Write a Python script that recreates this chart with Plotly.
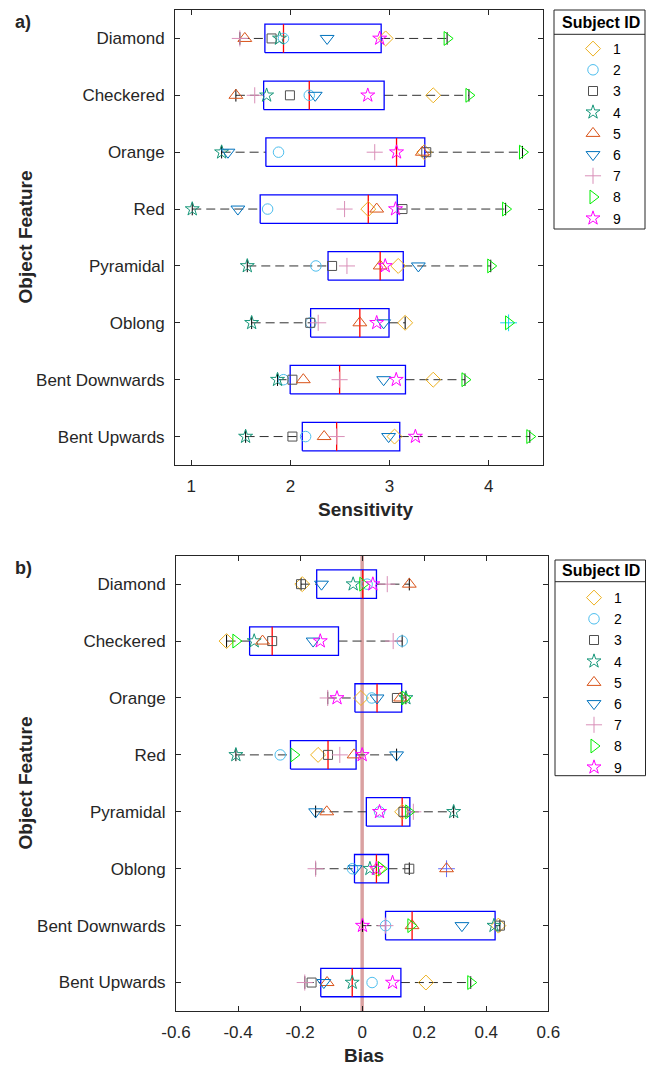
import numpy as np
import plotly.graph_objects as go

# ---------------- data ----------------
categories = ["Diamond", "Checkered", "Orange", "Red", "Pyramidal",
              "Oblong", "Bent Downwards", "Bent Upwards"]
subject_ids = ["1", "2", "3", "4", "5", "6", "7", "8", "9"]

# Sensitivity per subject (category order as above)
sens_s1 = [2.96, 3.44, 3.35, 2.785, 3.087, 3.157, 3.44, 3.05]
sens_s2 = [1.93, 2.19, 1.88, 1.77, 2.257, 2.205, 1.93, 2.153]
sens_s3 = [1.81, 1.995, 3.37, 3.13, 2.42, 2.20, 2.02, 2.02]
sens_s4 = [1.89, 1.76, 1.306, 1.01, 1.565, 1.609, 1.87, 1.548]
sens_s5 = [1.54, 1.45, 3.33, 2.87, 2.905, 2.70, 2.13, 2.34]
sens_s6 = [2.37, 2.25, 1.37, 1.47, 3.29, 2.94, 2.94, 2.99]
sens_s7 = [1.49, 1.64, 2.85, 2.546, 2.57, 2.28, 2.496, 2.466]
sens_s8 = [3.58, 3.80, 4.34, 4.17, 4.02, 4.20, 3.76, 4.414]
sens_s9 = [2.90, 2.78, 3.07, 3.06, 2.956, 2.87, 3.067, 3.26]

# Bias per subject
bias_s1 = [-0.193, -0.437, -0.004, -0.142, 0.129, 0.052, 0.439, 0.2055]
bias_s2 = [0.016, 0.129, 0.031, -0.264, 0.056, -0.031, 0.0755, 0.032]
bias_s3 = [-0.197, -0.29, 0.112, -0.11, 0.133, 0.152, 0.444, -0.163]
bias_s4 = [-0.029, -0.348, 0.141, -0.407, 0.295, 0.025, 0.425, -0.032]
bias_s5 = [0.152, -0.321, 0.124, -0.026, -0.114, 0.272, 0.161, -0.113]
bias_s6 = [-0.131, -0.158, 0.048, 0.111, -0.15, -0.0226, 0.3216, -0.1235]
bias_s7 = [0.081, 0.10, -0.111, -0.072, 0.165, -0.15, 0.075, -0.185]
bias_s8 = [0.002, -0.407, 0.138, -0.22, 0.15, 0.0625, 0.157, 0.35]
bias_s9 = [0.0345, -0.135, -0.081, 0.0, 0.056, 0.046, 0.001, 0.098]

sens_x_ticks = [1, 2, 3, 4]
bias_x_ticks = [-0.6, -0.4, -0.2, 0, 0.2, 0.4, 0.6]
bias_x_ticktext = ["-0.6", "-0.4", "-0.2", "0", "0.2", "0.4", "0.6"]

sensitivity = [sens_s1, sens_s2, sens_s3, sens_s4, sens_s5, sens_s6, sens_s7, sens_s8, sens_s9]
bias = [bias_s1, bias_s2, bias_s3, bias_s4, bias_s5, bias_s6, bias_s7, bias_s8, bias_s9]

# ---------------- style ----------------
W, H = 646, 1066
FONT = "Liberation Sans, Arial, Helvetica, sans-serif"
TXT = "#262626"
symbols = ["diamond-open", "circle-open", "square-open", "star-open", "triangle-up-open",
           "triangle-down-open", "cross-thin-open", "triangle-right-open", "star-open"]
colors = ["#EDB120", "#4DBEEE", "#505050", "#17977A", "#D95319",
          "#0072BD", "#D98FB8", "#00EE00", "#FF00FF"]
sizes = [11.5, 10.5, 9, 10.5, 12, 12, 11.5, 12, 10.5]

ncat = len(categories)
ypos = [ncat - i for i in range(ncat)]  # Diamond at top


def px_x(x):
    return x / W


def px_y(y):
    return 1 - y / H


def mprctile(vals, p):
    x = np.sort(np.asarray(vals, dtype=float))
    n = len(x)
    pos = n * p / 100.0 + 0.5
    if pos <= 1:
        return x[0]
    if pos >= n:
        return x[-1]
    lo = int(np.floor(pos))
    frac = pos - lo
    return x[lo - 1] + frac * (x[lo] - x[lo - 1])


def box_traces(data, xa, ya):
    bx, by, wx, wy, cx, cy, mx, my, ox, oy = [], [], [], [], [], [], [], [], [], []
    hw, cap = 0.25, 0.11
    for i in range(ncat):
        vals = np.array([d[i] for d in data])
        y = ypos[i]
        q1, med, q3 = mprctile(vals, 25), mprctile(vals, 50), mprctile(vals, 75)
        iqr = q3 - q1
        lo_f, hi_f = q1 - 1.5 * iqr, q3 + 1.5 * iqr
        inside = vals[(vals >= lo_f) & (vals <= hi_f)]
        lo_w, hi_w = inside.min(), inside.max()
        outs = vals[(vals < lo_f) | (vals > hi_f)]
        bx += [q1, q3, q3, q1, q1, None]
        by += [y - hw, y - hw, y + hw, y + hw, y - hw, None]
        wx += [lo_w, q1, None, q3, hi_w, None]
        wy += [y, y, None, y, y, None]
        cx += [lo_w, lo_w, None, hi_w, hi_w, None]
        cy += [y - cap, y + cap, None, y - cap, y + cap, None]
        mx += [med, med, None]
        my += [y - hw, y + hw, None]
        for o in outs:
            ox.append(o)
            oy.append(y)
    common = dict(xaxis=xa, yaxis=ya, mode="lines", showlegend=False, hoverinfo="skip")
    tr = [
        go.Scatter(x=wx, y=wy, line=dict(color="#303030", width=1, dash="9px,5px"), **common),
        go.Scatter(x=bx, y=by, line=dict(color="#0000FF", width=1.3), **common),
        go.Scatter(x=cx, y=cy, line=dict(color="#000000", width=1), **common),
        go.Scatter(x=mx, y=my, line=dict(color="#FF0000", width=1.3), **common),
    ]
    if ox:
        tr.append(go.Scatter(x=ox, y=oy, xaxis=xa, yaxis=ya, mode="markers", showlegend=False,
                             hoverinfo="skip",
                             marker=dict(symbol="cross-thin-open", size=12,
                                         line=dict(color="#FF0000", width=1))))
    return tr


fig = go.Figure()

# zero line for bias panel (drawn first, behind)
fig.add_trace(go.Scatter(x=[0, 0], y=[0.5, ncat + 0.5], xaxis="x2", yaxis="y2", mode="lines",
                         line=dict(color="rgba(205,130,130,0.75)", width=3.5),
                         showlegend=False, hoverinfo="skip"))

for t in box_traces(sensitivity, "x", "y"):
    fig.add_trace(t)
for t in box_traces(bias, "x2", "y2"):
    fig.add_trace(t)

for k in range(9):
    mk = dict(symbol=symbols[k], size=sizes[k], color=colors[k],
              line=dict(color=colors[k], width=1))
    fig.add_trace(go.Scatter(x=sensitivity[k], y=ypos, xaxis="x", yaxis="y", mode="markers",
                             name=subject_ids[k], marker=mk, legend="legend"))
    fig.add_trace(go.Scatter(x=bias[k], y=ypos, xaxis="x2", yaxis="y2", mode="markers",
                             name=subject_ids[k], marker=mk, legend="legend2"))

axis_common = dict(showline=True, linecolor=TXT, linewidth=1, mirror="ticks", ticks="inside",
                   ticklen=5, tickcolor=TXT, showgrid=False, zeroline=False, automargin=False,
                   tickfont=dict(family=FONT, size=17, color=TXT))

ylabels = [categories[ncat - v] for v in range(1, ncat + 1)]

legend_common = dict(xanchor="left", yanchor="top", bgcolor="rgba(0,0,0,0)", borderwidth=0,
                     font=dict(family=FONT, size=14, color="#000000"), itemwidth=30,
                     tracegroupgap=0)

fig.update_layout(
    width=W, height=H, autosize=False,
    margin=dict(l=0, r=0, t=0, b=0, autoexpand=False),
    paper_bgcolor="white", plot_bgcolor="white",
    font=dict(family=FONT, color=TXT),
    xaxis=dict(domain=[px_x(175), px_x(543.3)], range=[0.836, 4.55], tickvals=sens_x_ticks,
               anchor="y", ticklabelstandoff=6, **axis_common),
    yaxis=dict(domain=[px_y(465), px_y(10)], range=[0.5, ncat + 0.5],
               tickvals=list(range(1, ncat + 1)), ticktext=ylabels, anchor="x",
               ticklabelstandoff=6, **axis_common),
    xaxis2=dict(domain=[px_x(176), px_x(548.3)], range=[-0.6, 0.6], tickvals=bias_x_ticks,
                ticktext=bias_x_ticktext, anchor="y2", ticklabelstandoff=6, **axis_common),
    yaxis2=dict(domain=[px_y(1011), px_y(555.7)], range=[0.5, ncat + 0.5],
                tickvals=list(range(1, ncat + 1)), ticktext=ylabels, anchor="x2",
                ticklabelstandoff=6, **axis_common),
    legend=dict(x=px_x(573), y=px_y(33), **legend_common),
    legend2=dict(x=px_x(574), y=px_y(582), **legend_common),
    showlegend=True,
)

# legend boxes, separators, titles
for (x0, x1, y0, y1, ysep) in [(554, 645, 10, 229, 34.3), (555, 645.5, 560, 775.7, 581.7)]:
    fig.add_shape(type="rect", xref="paper", yref="paper", x0=px_x(x0), x1=px_x(x1),
                  y0=px_y(y1), y1=px_y(y0), line=dict(color=TXT, width=1),
                  fillcolor="rgba(255,255,255,0)", layer="above")
    fig.add_shape(type="line", xref="paper", yref="paper", x0=px_x(x0), x1=px_x(x1),
                  y0=px_y(ysep), y1=px_y(ysep), line=dict(color=TXT, width=1))
    fig.add_annotation(text="<b>Subject ID</b>", xref="paper", yref="paper",
                       x=px_x((x0 + x1) / 2 + 1), y=px_y((y0 + ysep) / 2), showarrow=False,
                       xanchor="center", yanchor="middle",
                       font=dict(family=FONT, size=16, color="#000000"))

annots = [
    ("<b>a)</b>", 23, 22, 18, 0),
    ("<b>b)</b>", 23, 568, 18, 0),
    ("<b>Sensitivity</b>", 365, 510, 19, 0),
    ("<b>Bias</b>", 364, 1055, 19, 0),
    ("<b>Object Feature</b>", 25, 237.5, 19, -90),
    ("<b>Object Feature</b>", 25, 783.5, 19, -90),
]
for text, x, y, s, ang in annots:
    fig.add_annotation(text=text, xref="paper", yref="paper", x=px_x(x), y=px_y(y),
                       showarrow=False, xanchor="center", yanchor="middle", textangle=ang,
                       font=dict(family=FONT, size=s, color=TXT))

fig.write_html("out.html", config={"displayModeBar": False},
               post_script="document.body.style.margin='0';document.body.style.overflow='hidden';")
